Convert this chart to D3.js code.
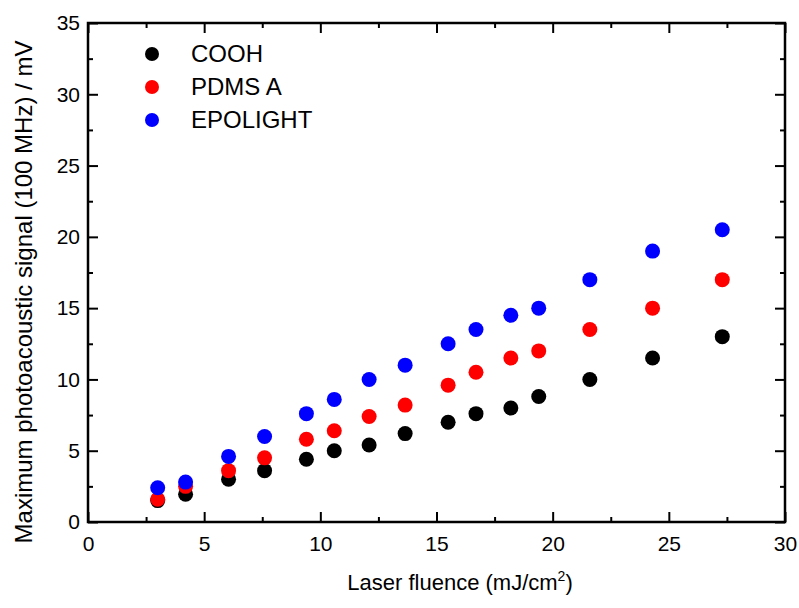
<!DOCTYPE html>
<html>
<head>
<meta charset="utf-8">
<script src="https://cdn.jsdelivr.net/npm/d3@7"></script>
<style>
  body { margin: 0; background: #fff; }
  svg text { font-family: "Liberation Sans", Arial, sans-serif; fill: #000; }
</style>
</head>
<body>
<div class="chart"></div>
<script>
// data
var fluence = [3.0, 4.2, 6.05, 7.6, 9.4, 10.6, 12.1, 13.65, 15.5, 16.7, 18.2, 19.4, 21.6, 24.3, 27.3];
var cooh = [1.5, 1.95, 3.0, 3.6, 4.4, 5.0, 5.4, 6.2, 7.0, 7.6, 8.0, 8.8, 10.0, 11.5, 13.0];
var pdmsA = [1.6, 2.5, 3.6, 4.5, 5.8, 6.4, 7.4, 8.2, 9.6, 10.5, 11.5, 12.0, 13.5, 15.0, 17.0];
var epolight = [2.4, 2.8, 4.6, 6.0, 7.6, 8.6, 10.0, 11.0, 12.5, 13.5, 14.5, 15.0, 17.0, 19.0, 20.5];
var seriesNames = ["COOH", "PDMS A", "EPOLIGHT"];
var seriesColors = ["#000000", "#ff0000", "#0000ff"];
var xTicks = [0, 5, 10, 15, 20, 25, 30];
var yTicks = [0, 5, 10, 15, 20, 25, 30, 35];

var svgWidth = 799;
var svgHeight = 608;
var margin = { top: 23, right: 14, bottom: 86, left: 88 };
var width = svgWidth - margin.left - margin.right;
var height = svgHeight - margin.top - margin.bottom;

var svg = d3.select(".chart")
  .append("svg")
  .attr("width", svgWidth)
  .attr("height", svgHeight);

var chartGroup = svg.append("g")
  .attr("transform", `translate(${margin.left}, ${margin.top})`);

var xScale = d3.scaleLinear().domain([0, 30]).range([0, width]);
var yScale = d3.scaleLinear().domain([0, 35]).range([height, 0]);

var minorX = d3.range(2.5, 30, 5);
var minorY = d3.range(2.5, 35, 5);

// ticks point inward on all four sides
function styleAxis(g) {
  g.select(".domain").remove();
  g.selectAll("line").attr("stroke", "#000").attr("stroke-width", 2);
  g.selectAll("text").style("font-size", "21px").style("font-family", "Liberation Sans, Arial, sans-serif");
}

var bottomAxis = d3.axisBottom(xScale).tickValues(xTicks).tickSize(-10).tickPadding(14).tickFormat(d3.format("d"));
chartGroup.append("g").attr("transform", `translate(0, ${height})`).call(bottomAxis).call(styleAxis);
chartGroup.append("g").attr("transform", `translate(0, ${height})`)
  .call(d3.axisBottom(xScale).tickValues(minorX).tickSize(-5).tickFormat("")).call(styleAxis);

var leftAxis = d3.axisLeft(yScale).tickValues(yTicks).tickSize(-10).tickPadding(8).tickFormat(d3.format("d"));
chartGroup.append("g").call(leftAxis).call(styleAxis);
chartGroup.append("g")
  .call(d3.axisLeft(yScale).tickValues(minorY).tickSize(-5).tickFormat("")).call(styleAxis);

chartGroup.append("g")
  .call(d3.axisTop(xScale).tickValues(xTicks).tickSize(-10).tickFormat("")).call(styleAxis);
chartGroup.append("g")
  .call(d3.axisTop(xScale).tickValues(minorX).tickSize(-5).tickFormat("")).call(styleAxis);
chartGroup.append("g").attr("transform", `translate(${width}, 0)`)
  .call(d3.axisRight(yScale).tickValues(yTicks).tickSize(-10).tickFormat("")).call(styleAxis);
chartGroup.append("g").attr("transform", `translate(${width}, 0)`)
  .call(d3.axisRight(yScale).tickValues(minorY).tickSize(-5).tickFormat("")).call(styleAxis);

// frame
chartGroup.append("rect")
  .attr("x", 0).attr("y", 0)
  .attr("width", width).attr("height", height)
  .attr("fill", "none")
  .attr("stroke", "#000")
  .attr("stroke-width", 2.5);

// points
var allSeries = [cooh, pdmsA, epolight];
allSeries.forEach(function(vals, i) {
  chartGroup.append("g").selectAll("circle")
    .data(vals)
    .enter()
    .append("circle")
    .attr("cx", (d, j) => xScale(fluence[j]))
    .attr("cy", d => yScale(d))
    .attr("r", 7.5)
    .attr("fill", seriesColors[i]);
});

// legend
var legend = chartGroup.append("g").attr("transform", "translate(64, 31)");
seriesNames.forEach(function(name, i) {
  legend.append("circle")
    .attr("cx", 0).attr("cy", i * 33)
    .attr("r", 7)
    .attr("fill", seriesColors[i]);
  legend.append("text")
    .attr("x", 39).attr("y", i * 33)
    .attr("dy", "0.35em")
    .style("font-size", "24px")
    .text(name);
});

// axis labels
var xTitle = svg.append("text")
  .attr("x", 460)
  .attr("y", 590)
  .attr("text-anchor", "middle")
  .style("font-size", "22px");
xTitle.append("tspan").text("Laser fluence (mJ/cm");
xTitle.append("tspan").attr("dy", -9).style("font-size", "14px").text("2");
xTitle.append("tspan").attr("dy", 9).text(")");

svg.append("text")
  .attr("transform", "translate(32, 292) rotate(-90)")
  .attr("text-anchor", "middle")
  .style("font-size", "24px")
  .text("Maximum photoacoustic signal (100 MHz) / mV");
</script>
</body>
</html>
